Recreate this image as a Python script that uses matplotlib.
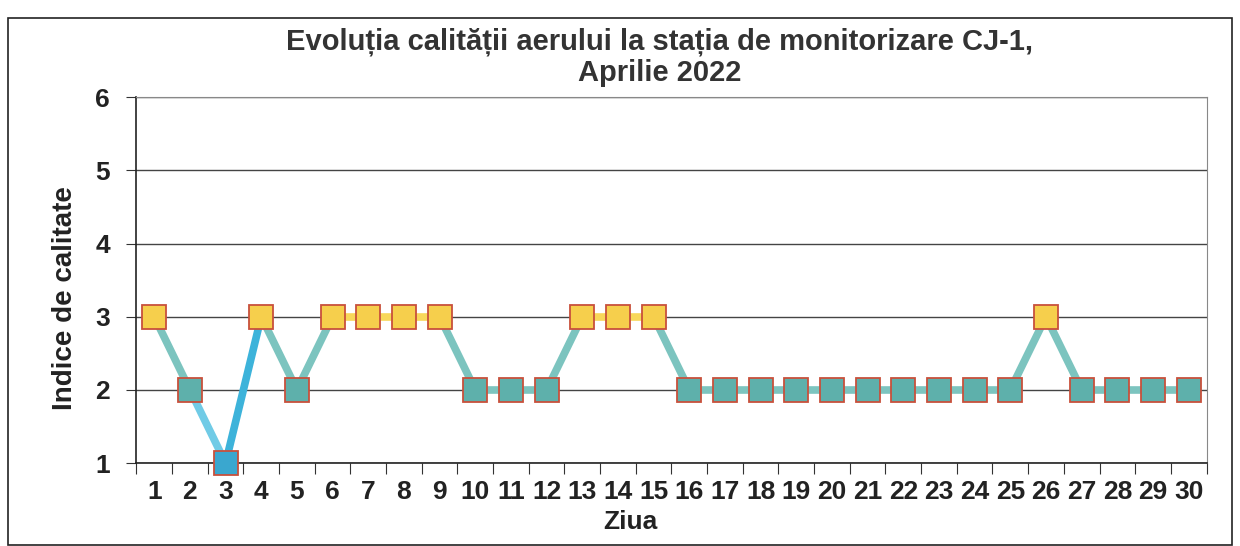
import matplotlib
matplotlib.use("Agg")
import matplotlib.pyplot as plt
from matplotlib.patches import Rectangle

days = list(range(1, 31))
values = [3, 2, 1, 3, 2, 3, 3, 3, 3, 2, 2, 2, 3, 3, 3, 2, 2, 2, 2, 2, 2, 2, 2, 2, 2, 3, 2, 2, 2, 2]
title = "Evoluția calității aerului la stația de monitorizare CJ-1,\nAprilie 2022"
xlabel = "Ziua"
ylabel = "Indice de calitate"
yticks = [1, 2, 3, 4, 5, 6]

marker_colors = {1: "#3aa7cf", 2: "#5eb0ab", 3: "#f6cf4c"}
edge_color = "#c8503c"

def seg_color(a, b):
    if a == 3 and b == 3:
        return "#f8d85a"
    if a == 2 and b == 2:
        return "#7cc4bf"
    if {a, b} == {2, 3}:
        return "#7cc4bf"
    if {a, b} == {1, 2}:
        return "#70cbe6"
    return "#3db3da"

plt.rcParams['font.family'] = ['Liberation Sans', 'DejaVu Sans']

fig = plt.figure(figsize=(12.4, 5.46), dpi=100)
ax = fig.add_axes([0.110, 0.152, 0.863, 0.670])

fig.patches.append(Rectangle((8/1240, 1-545/546), 1224/1240, 527/546, transform=fig.transFigure,
                             fill=False, edgecolor="#222222", linewidth=1.2))

for i in range(len(days) - 1):
    ax.plot([days[i], days[i+1]], [values[i], values[i+1]], color=seg_color(values[i], values[i+1]),
            linewidth=5.5, solid_capstyle='butt', zorder=3, clip_on=False)

for d, v in zip(days, values):
    ax.plot([d], [v], marker='s', markersize=17.5, markerfacecolor=marker_colors[v],
            markeredgecolor=edge_color, markeredgewidth=1.3, zorder=4, clip_on=False, linestyle='none')

ax.set_xlim(0.5, 30.5)
ax.set_ylim(1, 6)
ax.set_yticks(yticks)
ax.set_yticklabels([str(t) for t in yticks], fontsize=19, fontweight='bold', color="#222222")
ax.yaxis.grid(True, color="#444444", linewidth=1.0)
ax.set_axisbelow(True)

ax.set_xticks([x + 0.5 for x in range(0, 31)])
ax.set_xticklabels([])
ax.set_xticks(days, minor=True)
ax.set_xticklabels([str(d) for d in days], minor=True, fontsize=19, fontweight='bold', color="#222222")
ax.tick_params(axis='x', which='major', length=8, direction='out', color="#333333")
ax.tick_params(axis='x', which='minor', length=0, pad=12)
ax.tick_params(axis='y', length=7, direction='out', pad=12, color="#333333")

for s in ['left', 'bottom']:
    ax.spines[s].set_color("#222222")
    ax.spines[s].set_linewidth(1.2)
ax.spines['right'].set_color("#888888")
ax.spines['top'].set_color("#888888")

fig.text(630/1240, 1-522/546, xlabel, ha='center', va='center', fontsize=19, fontweight='bold', color="#222222")
fig.text(65/1240, 1-298/546, ylabel, ha='center', va='center', rotation=90, fontsize=20,
         fontweight='bold', color="#222222")

fig.text(660/1240, 1-57/546, title, ha='center', va='center', fontsize=21, fontweight='bold',
         color="#333333", linespacing=1.15)

fig.savefig("out.png", dpi=100)
